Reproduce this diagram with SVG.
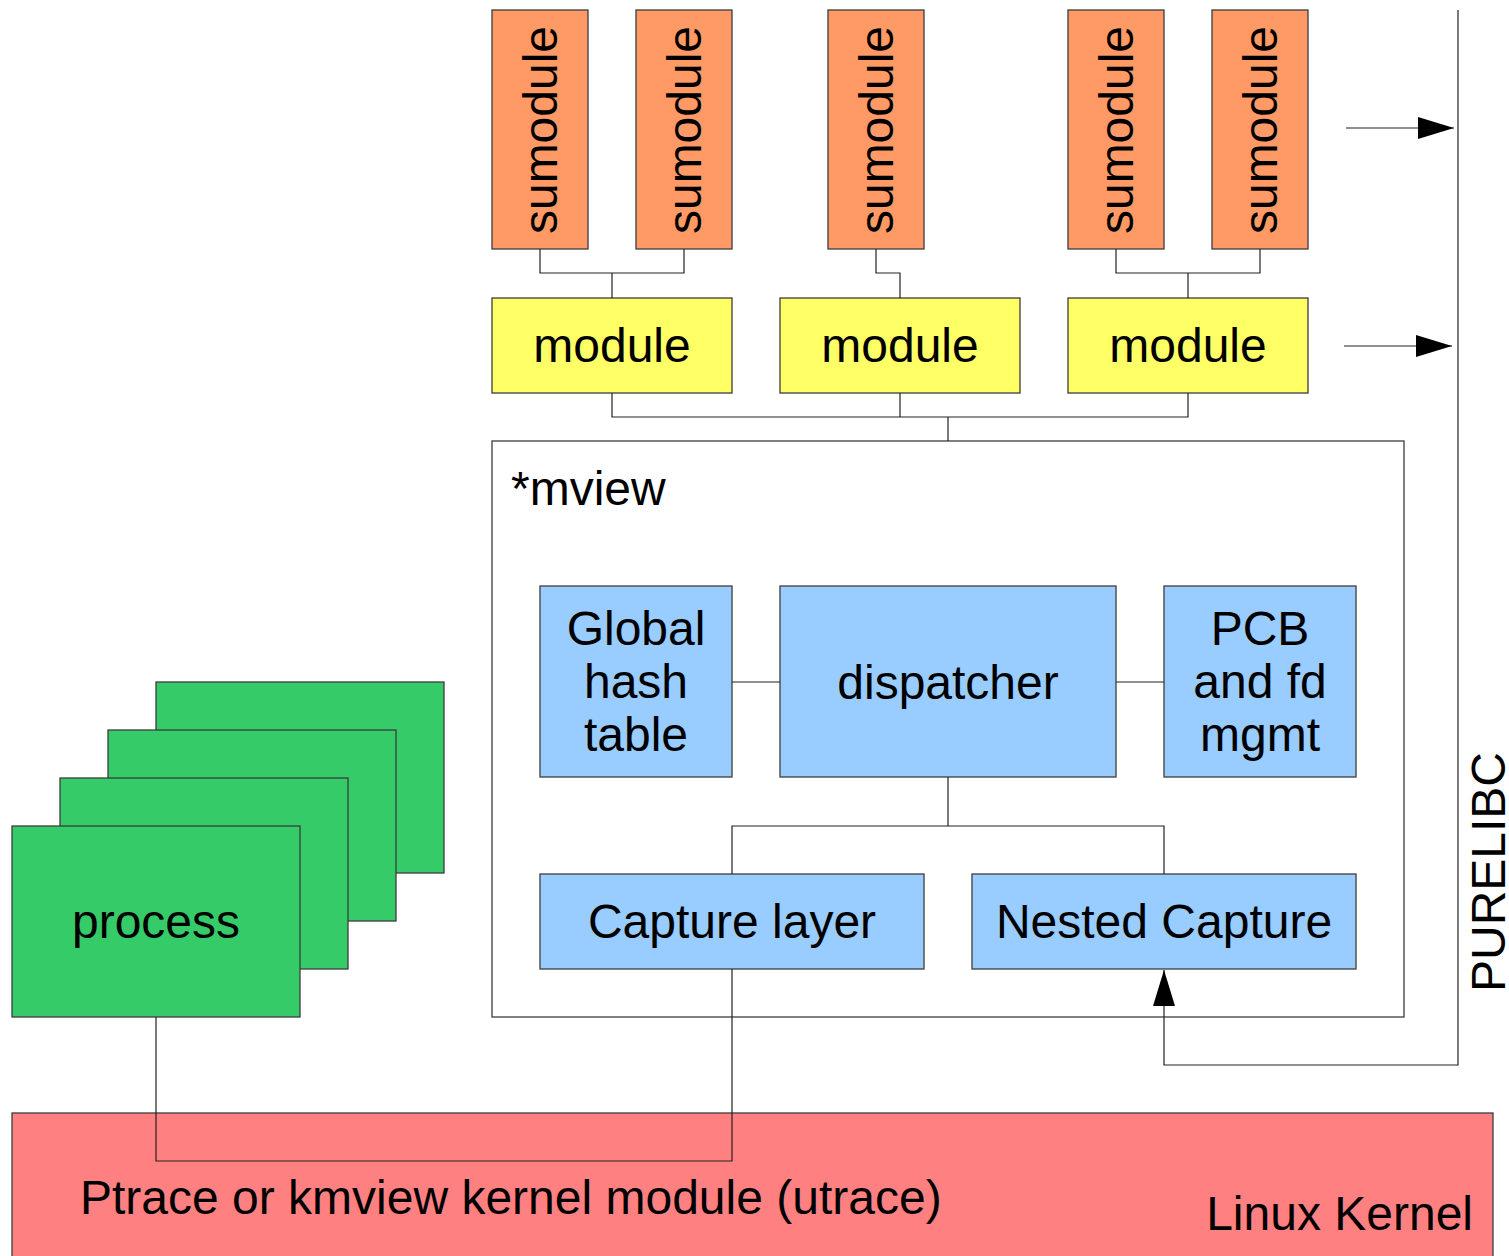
<svg xmlns="http://www.w3.org/2000/svg" width="1509" height="1256" viewBox="0 0 1509 1256">
<style>
text{font-family:"Liberation Sans",Arial,sans-serif;font-size:48px;fill:#000}
.box{stroke:#3c3c3c;stroke-width:1.3}
.sub{fill:#ff9966}
.mod{fill:#ffff66}
.blue{fill:#99ccff}
.grn{fill:#35cb69}
.c{text-anchor:middle}
.ln{fill:none;stroke:#222;stroke-width:1.2}
</style>
<defs>
<marker id="ah" viewBox="0 0 36 22" refX="36" refY="11" markerWidth="36" markerHeight="22" markerUnits="userSpaceOnUse" orient="auto">
<path d="M0,0 L36,11 L0,22 Z" fill="#000"/>
</marker>
</defs>
<rect width="1509" height="1256" fill="#fff"/>

<g id="kernel">
<rect x="12" y="1113" width="1481" height="160" fill="#ff8080" class="box"/>
<text x="80" y="1214">Ptrace or kmview kernel module (utrace)</text>
<text x="1473" y="1230" text-anchor="end">Linux Kernel</text>
</g>

<g id="mview">
<rect x="492" y="441" width="912" height="576" fill="#fff" class="box"/>
<text x="511" y="505">*mview</text>
</g>

<g id="sumodule1"><rect x="492" y="10" width="96" height="239" class="box sub"/><text class="c" transform="translate(540,130) rotate(-90)" dy="0.35em">sumodule</text></g>
<g id="sumodule2"><rect x="636" y="10" width="96" height="239" class="box sub"/><text class="c" transform="translate(684,130) rotate(-90)" dy="0.35em">sumodule</text></g>
<g id="sumodule3"><rect x="828" y="10" width="96" height="239" class="box sub"/><text class="c" transform="translate(876,130) rotate(-90)" dy="0.35em">sumodule</text></g>
<g id="sumodule4"><rect x="1068" y="10" width="96" height="239" class="box sub"/><text class="c" transform="translate(1116,130) rotate(-90)" dy="0.35em">sumodule</text></g>
<g id="sumodule5"><rect x="1212" y="10" width="96" height="239" class="box sub"/><text class="c" transform="translate(1260,130) rotate(-90)" dy="0.35em">sumodule</text></g>

<g id="module1"><rect x="492" y="298" width="240" height="95" class="box mod"/><text class="c" x="612" y="362">module</text></g>
<g id="module2"><rect x="780" y="298" width="240" height="95" class="box mod"/><text class="c" x="900" y="362">module</text></g>
<g id="module3"><rect x="1068" y="298" width="240" height="95" class="box mod"/><text class="c" x="1188" y="362">module</text></g>

<g id="globalhash"><rect x="540" y="586" width="192" height="191" class="box blue"/>
<text class="c" x="636" y="645">Global</text><text class="c" x="636" y="698">hash</text><text class="c" x="636" y="751">table</text></g>
<g id="dispatcher"><rect x="780" y="586" width="336" height="191" class="box blue"/><text class="c" x="948" y="699">dispatcher</text></g>
<g id="pcb"><rect x="1164" y="586" width="192" height="191" class="box blue"/>
<text class="c" x="1260" y="645">PCB</text><text class="c" x="1260" y="698">and fd</text><text class="c" x="1260" y="751">mgmt</text></g>
<g id="capture"><rect x="540" y="874" width="384" height="95" class="box blue"/><text class="c" x="732" y="938">Capture layer</text></g>
<g id="nested"><rect x="972" y="874" width="384" height="95" class="box blue"/><text class="c" x="1164" y="938">Nested Capture</text></g>

<g id="processes">
<rect x="156" y="682" width="288" height="191" class="box grn"/>
<rect x="108" y="730" width="288" height="191" class="box grn"/>
<rect x="60" y="778" width="288" height="191" class="box grn"/>
<rect x="12" y="826" width="288" height="191" class="box grn"/>
<text class="c" x="156" y="938">process</text>
</g>

<g id="purelibc">
<text class="c" transform="translate(1505,872) rotate(-90)">PURELIBC</text>
</g>

<g id="connectors">
<path class="ln" d="M540,249 V273 H684 V249 M612,273 V298"/>
<path class="ln" d="M876,249 V273 H900 V298"/>
<path class="ln" d="M1116,249 V273 H1260 V249 M1188,273 V298"/>
<path class="ln" d="M612,393 V417 H1188 V393 M900,393 V417 M948,417 V441"/>
<path class="ln" d="M732,682 H780 M1116,682 H1164"/>
<path class="ln" d="M948,777 V826 M732,874 V826 H1164 V874"/>
<path class="ln" d="M1458,10 V1065 H1164 V970" marker-end="url(#ah)"/>
<path class="ln" d="M1346,128 H1454" marker-end="url(#ah)"/>
<path class="ln" d="M1344,346 H1452" marker-end="url(#ah)"/>
<path class="ln" d="M156,1017 V1161 H732 V969"/>
</g>
</svg>
